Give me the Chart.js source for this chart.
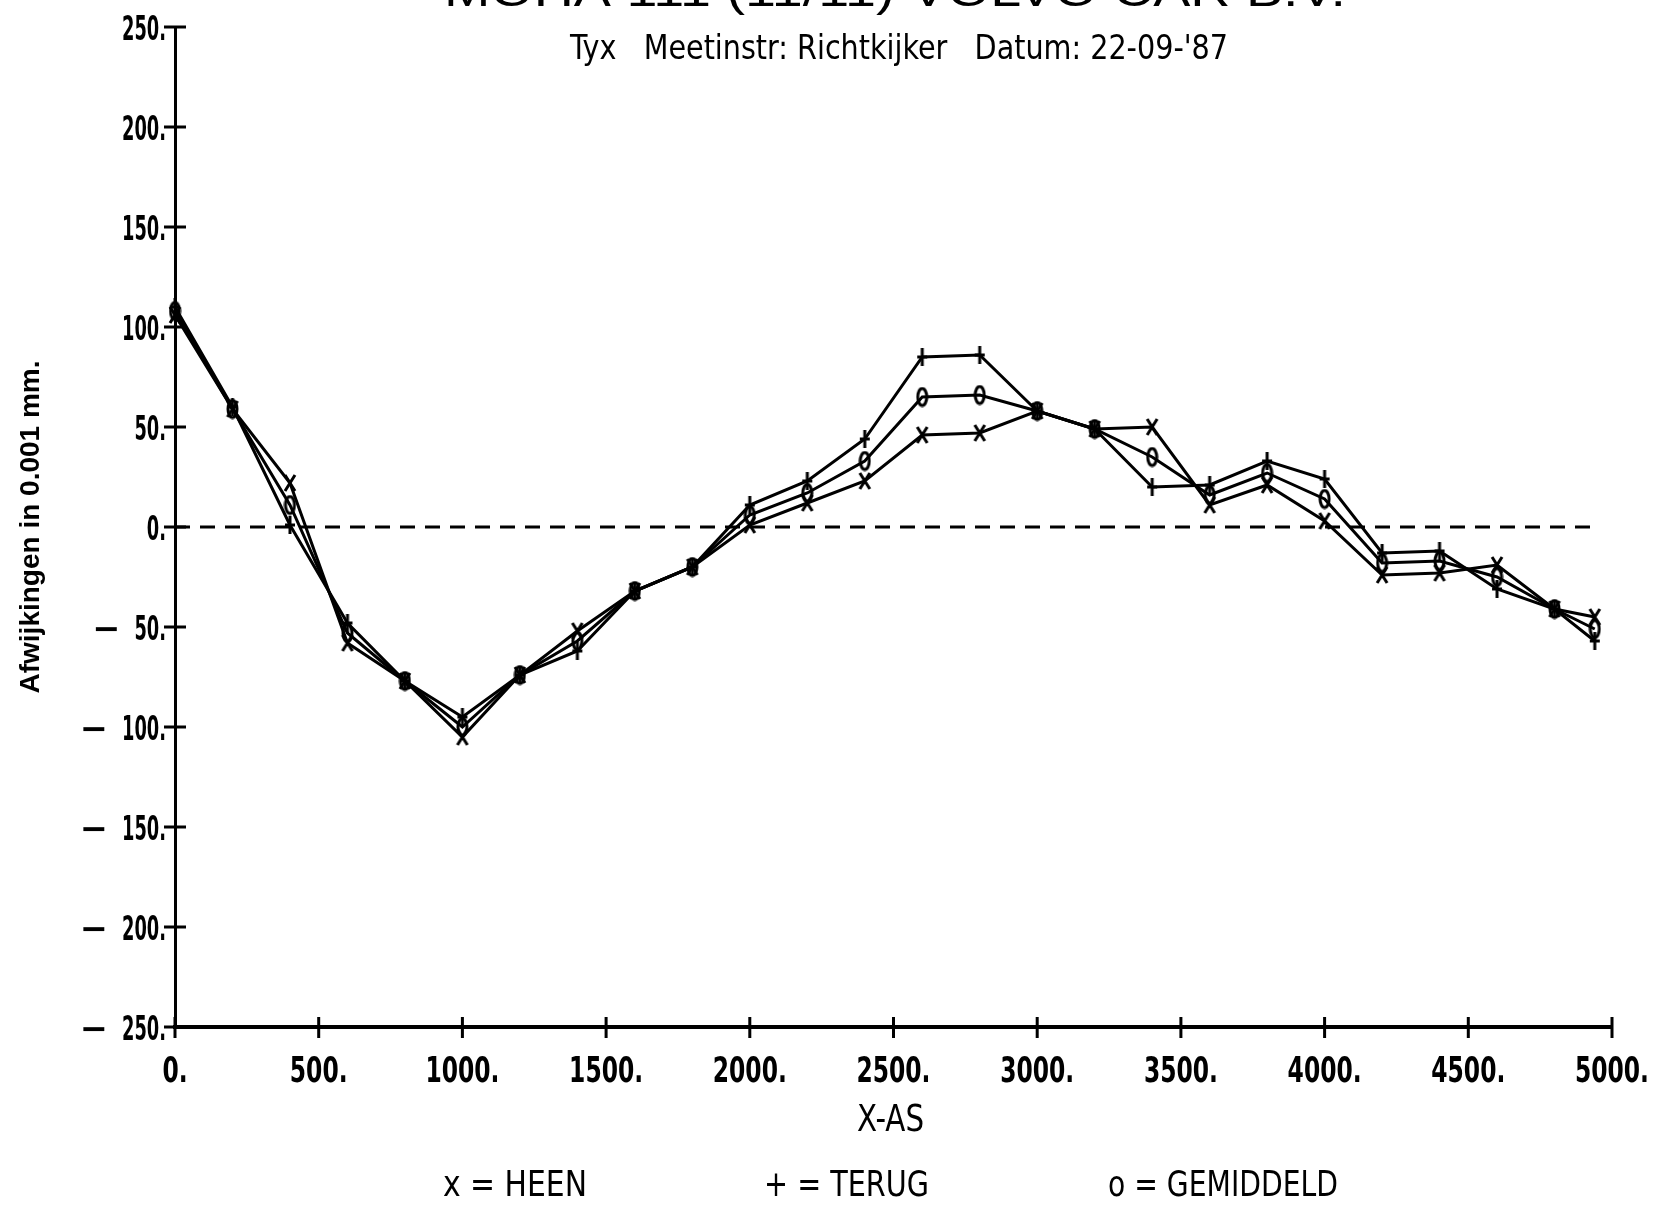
<!DOCTYPE html>
<html>
<head>
<meta charset="utf-8">
<script src="https://cdn.jsdelivr.net/npm/chart.js@4.4.1/dist/chart.umd.min.js"></script>
<style>
  html, body { margin: 0; padding: 0; background: #fff; }
  canvas { display: block; }
</style>
</head>
<body>
<canvas id="myChart" width="1655" height="1206"></canvas>
<script>
// meetpunten langs de X-as
const positions = [0, 200, 400, 600, 800, 1000, 1200, 1400, 1600, 1800, 2000, 2200, 2400,
                   2600, 2800, 3000, 3200, 3400, 3600, 3800, 4000, 4200, 4400, 4600, 4800, 4940];

// afwijkingen in 0.001 mm
const heen      = [106, 59, 22, -58, -77, -105, -74, -52, -32, -20, 1, 12, 23,
                   46, 47, 58, 49, 50, 11, 21, 3, -24, -23, -19, -41, -45];
const terug     = [110, 60, 1, -48, -77, -95, -74, -62, -32, -20, 11, 23, 44,
                   85, 86, 58, 49, 20, 21, 33, 24, -13, -12, -31, -41, -57];
const gemiddeld = [108, 59, 11, -53, -77, -100, -74, -57, -32, -20, 6, 17, 33,
                   65, 66, 58, 49, 35, 16, 27, 14, -18, -17, -25, -41, -51];

const nulLijn = [0, 0];
const nulLijnX = [0, 4940];

const xTicks = [0, 500, 1000, 1500, 2000, 2500, 3000, 3500, 4000, 4500, 5000];
const xTickLabels = ['0.', '500.', '1000.', '1500.', '2000.', '2500.', '3000.', '3500.', '4000.', '4500.', '5000.'];
const yTicks = [-250, -200, -150, -100, -50, 0, 50, 100, 150, 200, 250];
const yTickLabels = ['\u2212250.', '\u2212200.', '\u2212150.', '\u2212100.', '\u221250.', '0.', '50.', '100.', '150.', '200.', '250.'];

const legendLabels = ['x = HEEN', '+ = TERUG', 'o = GEMIDDELD'];
const titel = 'MOHA 111 (11/11) VOLVO CAR B.V.';
const ondertitel = "Tyx   Meetinstr: Richtkijker   Datum: 22-09-'87";

const COND = '"DejaVu Sans Condensed", "Liberation Sans Narrow", sans-serif';

// plottersymbolen als kleine canvassen
function mark(w, h, draw) {
    const c = document.createElement('canvas');
    c.width = w;
    c.height = h;
    const g = c.getContext('2d');
    g.strokeStyle = '#000';
    g.lineWidth = 3;
    draw(g, w, h);
    return c;
}
const markX = mark(14, 20, (g, w, h) => {
    g.beginPath();
    g.moveTo(2, 2); g.lineTo(w - 2, h - 2);
    g.moveTo(w - 2, 2); g.lineTo(2, h - 2);
    g.stroke();
});
const markPlus = mark(12, 20, (g, w, h) => {
    g.beginPath();
    g.moveTo(w / 2, 1); g.lineTo(w / 2, h - 1);
    g.moveTo(1, h / 2); g.lineTo(w - 1, h / 2);
    g.stroke();
});
const markO = mark(13, 21, (g, w, h) => {
    g.beginPath();
    g.ellipse(w / 2, h / 2, w / 2 - 2, h / 2 - 2, 0, 0, Math.PI * 2);
    g.stroke();
});

const pts = (ys) => positions.map((x, i) => ({ x: x, y: ys[i] }));

function serie(label, ys, symbol) {
    return {
        label: label,
        data: pts(ys),
        borderColor: '#000',
        borderWidth: 3,
        tension: 0,
        pointStyle: symbol,
        pointRadius: 6,
        clip: false
    };
}

// smalle plottertekst: horizontaal samengedrukt
function squeezed(ctx, text, x, baseline, sx) {
    ctx.save();
    ctx.translate(x, baseline);
    ctx.scale(sx, 1);
    ctx.textAlign = 'left';
    ctx.textBaseline = 'alphabetic';
    ctx.fillText(text, 0, 0);
    ctx.restore();
}

function fitText(ctx, text, font, left, right, baseline) {
    ctx.save();
    ctx.font = font;
    ctx.fillStyle = '#000';
    const w = ctx.measureText(text).width;
    squeezed(ctx, text, left, baseline, (right - left) / w);
    ctx.restore();
}

// tickstreepjes door de as heen, plus de getallen ernaast
const axisTicks = {
    id: 'axisTicks',
    afterDraw(chart) {
        const ctx = chart.ctx;
        const xs = chart.scales.x, ys = chart.scales.y;
        const left = chart.chartArea.left, bottom = chart.chartArea.bottom;
        ctx.save();
        ctx.strokeStyle = '#000';
        ctx.fillStyle = '#000';
        ctx.lineWidth = 3;
        ctx.beginPath();
        ys.ticks.forEach(t => {
            const y = ys.getPixelForValue(t.value);
            ctx.moveTo(left - 11, y);
            ctx.lineTo(left + 11, y);
        });
        xs.ticks.forEach(t => {
            const x = xs.getPixelForValue(t.value);
            ctx.moveTo(x, bottom - 10);
            ctx.lineTo(x, bottom + 11);
        });
        ctx.stroke();

        // y-getallen
        ctx.font = 'bold 34px ' + COND;
        const sy = 44 / ctx.measureText('250.').width;
        const minW = ctx.measureText('\u2212').width;
        yTicks.forEach((v, i) => {
            const label = yTickLabels[i];
            const neg = label.charAt(0) === '\u2212';
            const num = neg ? label.slice(1) : label;
            const y = ys.getPixelForValue(v) + 13;
            const right = left - 9;
            const w = ctx.measureText(num).width * sy;
            squeezed(ctx, num, right - w, y, sy);
            if (neg) {
                squeezed(ctx, '\u2212', right - w - 14 - 28, y, 28 / minW);
            }
        });

        // x-getallen
        ctx.font = 'bold 36px ' + COND;
        const sx = 74 / ctx.measureText('5000.').width;
        xTicks.forEach((v, i) => {
            const label = xTickLabels[i];
            const w = ctx.measureText(label).width * sx;
            squeezed(ctx, label, xs.getPixelForValue(v) - w / 2, bottom + 55, sx);
        });
        ctx.restore();
    }
};

// koptekst en symboolverklaring
const captions = {
    id: 'captions',
    afterDraw(chart) {
        const ctx = chart.ctx;
        fitText(ctx, titel, '44px "Liberation Sans", sans-serif', 444, 1346, 6);
        fitText(ctx, ondertitel, '33px ' + COND, 570, 1228, 59);
        fitText(ctx, 'X-AS', '37px ' + COND, 857, 924, 1131);
        fitText(ctx, legendLabels[0], '36px ' + COND, 443, 587, 1196);
        fitText(ctx, legendLabels[1], '36px ' + COND, 764, 929, 1196);
        fitText(ctx, legendLabels[2], '36px ' + COND, 1108, 1338, 1196);
    }
};

const mychart = document.getElementById('myChart').getContext('2d');

const myChart = new Chart(mychart, {
    type: 'line',
    data: {
        datasets: [
            serie('HEEN', heen, markX),
            serie('TERUG', terug, markPlus),
            serie('GEMIDDELD', gemiddeld, markO),
            {
                label: 'nul',
                data: nulLijnX.map((x, i) => ({ x: x, y: nulLijn[i] })),
                borderColor: '#000',
                borderWidth: 3,
                borderDash: [15, 10],
                pointRadius: 0,
                clip: false
            }
        ]
    },
    options: {
        responsive: false,
        animation: false,
        devicePixelRatio: 1,
        layout: { padding: { top: 27, right: 43, bottom: 0, left: 0 } },
        plugins: {
            legend: { display: false },
            title: { display: false },
            tooltip: { enabled: false }
        },
        scales: {
            x: {
                type: 'linear',
                min: 0,
                max: 5000,
                afterBuildTicks: (s) => { s.ticks = xTicks.map(v => ({ value: v })); },
                afterFit: (s) => { s.height = 179; },
                grid: { display: false, drawTicks: false },
                border: { display: true, color: '#000', width: 4 },
                ticks: { display: false }
            },
            y: {
                min: -250,
                max: 250,
                afterBuildTicks: (s) => { s.ticks = yTicks.map(v => ({ value: v })); },
                afterFit: (s) => { s.width = 175; },
                grid: { display: false, drawTicks: false },
                border: { display: true, color: '#000', width: 3 },
                ticks: { display: false },
                title: {
                    display: true,
                    text: 'Afwijkingen in 0.001 mm.',
                    color: '#000',
                    font: { family: '"Liberation Sans", Arial, sans-serif', size: 28, weight: 'bold' },
                    padding: { top: 14, bottom: 0 }
                }
            }
        }
    },
    plugins: [axisTicks, captions]
});
</script>
</body>
</html>
